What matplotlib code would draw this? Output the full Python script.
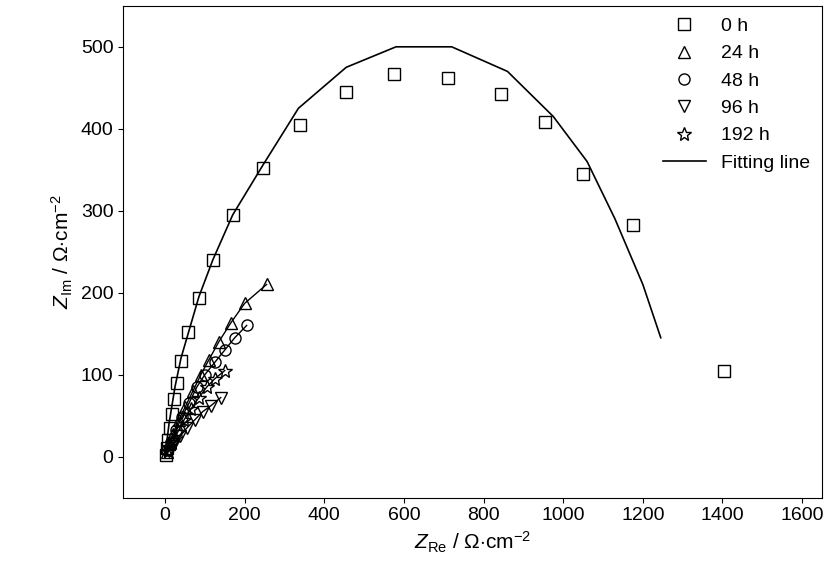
import numpy as np
import matplotlib
matplotlib.use('Agg')
import matplotlib.pyplot as plt

plt.rcParams['font.family'] = ['Liberation Sans', 'DejaVu Sans']
plt.rcParams['mathtext.fontset'] = 'custom'
plt.rcParams['mathtext.it'] = 'Liberation Sans:italic'
plt.rcParams['mathtext.rm'] = 'Liberation Sans'

# --- data ---
x0 = [2, 5, 8, 12, 17, 22, 30, 40, 58, 85, 120, 170, 245, 340, 455, 575, 710, 845, 955, 1050, 1175, 1405]
y0 = [2, 10, 20, 35, 52, 70, 90, 117, 152, 193, 240, 295, 352, 405, 445, 467, 462, 442, 408, 345, 283, 105]
fx0 = [0, 10, 25, 40, 85, 120, 170, 245, 335, 455, 580, 720, 860, 975, 1060, 1130, 1200, 1245]
fy0 = [0, 40, 85, 120, 195, 240, 295, 355, 425, 475, 500, 500, 470, 415, 360, 290, 210, 145]

x24 = [4, 10, 20, 35, 50, 70, 90, 110, 135, 165, 200, 255]
y24 = [5, 15, 28, 45, 60, 80, 100, 118, 140, 163, 187, 210]
x48 = [6, 15, 28, 42, 60, 80, 100, 125, 150, 175, 205]
y48 = [8, 18, 33, 48, 65, 85, 100, 115, 130, 145, 160]
x96 = [10, 22, 38, 55, 75, 95, 115, 140]
y96 = [7, 15, 25, 35, 45, 55, 62, 72]
x192 = [8, 18, 32, 48, 65, 85, 105, 125, 150]
y192 = [7, 17, 30, 45, 58, 72, 85, 95, 105]

fig, ax = plt.subplots(figsize=(8.27, 5.84), dpi=100)
fig.subplots_adjust(left=0.149, right=0.994, top=0.99, bottom=0.148)

kw = dict(ls='none', mfc='none', mec='black', mew=1.0, ms=8)
ax.plot(x0, y0, marker='s', label='0 h', **kw)
ax.plot(x24, y24, marker='^', label='24 h', **kw)
ax.plot(x48, y48, marker='o', label='48 h', **kw)
ax.plot(x96, y96, marker='v', label='96 h', **kw)
ax.plot(x192, y192, marker='*', label='192 h', **{**kw, 'ms': 10})
ax.plot(fx0, fy0, color='black', lw=1.2, label='Fitting line')
for xs, ys in [(x24, y24), (x48, y48), (x96, y96), (x192, y192)]:
    ax.plot([0] + xs, [0] + ys, color='black', lw=1.0)

ax.set_xlim(-105, 1650)
ax.set_ylim(-50, 550)
ax.set_xticks(range(0, 1601, 200))
ax.set_yticks(range(0, 501, 100))
ax.tick_params(labelsize=14, direction='out')
ax.set_xlabel(r'$Z_{\mathrm{Re}}$ / $\Omega$$\cdot$cm$^{-2}$', fontsize=15)
ax.set_ylabel(r'$Z_{\mathrm{Im}}$ / $\Omega$$\cdot$cm$^{-2}$', fontsize=15)
ax.legend(loc='upper right', frameon=False, fontsize=14, handlelength=2.2, borderaxespad=0.2)

fig.savefig('out.png', dpi=100)
